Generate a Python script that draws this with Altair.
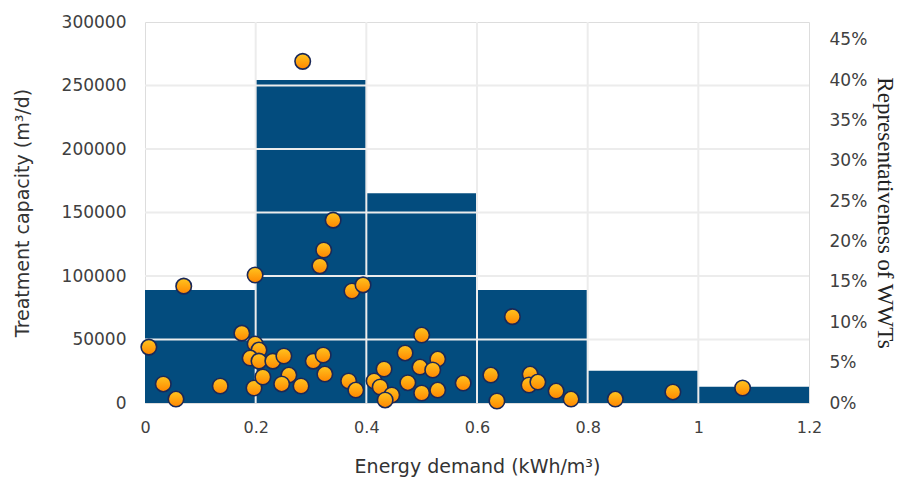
import altair as alt
import pandas as pd

# Histogram of representativeness (right axis)
bin_start = [0.0, 0.2, 0.4, 0.6, 0.8, 1.0]
bin_end = [0.2, 0.4, 0.6, 0.8, 1.0, 1.2]
share = [0.14, 0.40, 0.26, 0.14, 0.04, 0.02]

# Scatter: energy demand vs treatment capacity (left axis)
energy = [0.007, 0.07, 0.033, 0.056, 0.136, 0.175, 0.197, 0.213, 0.199, 0.206,
          0.19, 0.206, 0.231, 0.199, 0.251, 0.26, 0.247, 0.282, 0.304, 0.322,
          0.325, 0.368, 0.381, 0.414, 0.432, 0.425, 0.446, 0.434, 0.47, 0.475,
          0.5, 0.529, 0.497, 0.52, 0.5, 0.529, 0.575, 0.625, 0.636, 0.664,
          0.696, 0.694, 0.71, 0.743, 0.77, 0.85, 0.954, 1.08, 0.285, 0.34,
          0.323, 0.316, 0.374, 0.394]
capacity = [44000, 92000, 15000, 3100, 13400, 55000, 11800, 20500, 46500, 41700,
            35400, 33000, 33000, 100800, 37000, 22000, 15000, 13400, 33000, 37800,
            22800, 17300, 10200, 17300, 26800, 12600, 6300, 2400, 39400, 16000,
            53500, 34600, 28300, 26000, 7900, 10200, 15700, 22000, 1600, 68000,
            22800, 14200, 16500, 9400, 3100, 3100, 8700, 11800, 269000, 144000,
            120500, 108000, 88200, 93000]

x_ticks = [0, 0.2, 0.4, 0.6, 0.8, 1.0, 1.2]
grid_x = [0.2, 0.4, 0.6, 0.8, 1.0]
grid_y = [50000, 100000, 150000, 200000, 250000]
left_ticks = [0, 50000, 100000, 150000, 200000, 250000, 300000]
right_ticks = [0, 0.05, 0.10, 0.15, 0.20, 0.25, 0.30, 0.35, 0.40, 0.45]

bars_df = pd.DataFrame({"start": bin_start, "end": bin_end, "share": share})
pts_df = pd.DataFrame({"energy": energy, "capacity": capacity})
gx_df = pd.DataFrame({"gx": grid_x})
gy_df = pd.DataFrame({"gy": grid_y})

xscale = alt.Scale(domain=[0, 1.2], nice=False, zero=False)
left_scale = alt.Scale(domain=[0, 300000], nice=False)
right_scale = alt.Scale(domain=[0, 0.472], nice=False)

label_color = "#404040"

x_axis = alt.Axis(values=x_ticks, format="~g", title="Energy demand (kWh/m³)",
                  grid=False, ticks=False, domain=False, labelPadding=16,
                  labelFlush=False, titlePadding=22, labelFontSize=16,
                  titleFontSize=19, labelColor=label_color,
                  titleColor="#333333", labelFont="DejaVu Sans",
                  titleFont="DejaVu Sans", titleFontWeight="normal")

bars = alt.Chart(bars_df).mark_bar(color="#034c7e").encode(
    x=alt.X("start:Q", scale=xscale, axis=x_axis),
    x2="end:Q",
    y=alt.Y("share:Q", scale=right_scale,
            axis=alt.Axis(orient="right", values=right_ticks, format=".0%",
                          title="Representativeness of WWTs", grid=False,
                          ticks=False, domain=False, labelPadding=20,
                          titlePadding=6, labelFontSize=17, titleFontSize=23,
                          labelColor=label_color, titleColor="#222222",
                          labelFont="DejaVu Sans", titleFont="Liberation Serif",
                          titleFontWeight="normal")),
    y2=alt.datum(0),
)

vgrid = alt.Chart(gx_df).mark_rule(color="#ececec", strokeWidth=2).encode(
    x=alt.X("gx:Q", scale=xscale, axis=x_axis)
)

hgrid = alt.Chart(gy_df).mark_rule(color="#ececec", strokeWidth=2).encode(
    y=alt.Y("gy:Q", scale=left_scale, axis=None)
)

grad = alt.Gradient(
    gradient="linear",
    stops=[alt.GradientStop(color="#ffc51f", offset=0),
           alt.GradientStop(color="#ff8600", offset=1)],
    x1=0, x2=0, y1=0, y2=1,
)

points = alt.Chart(pts_df).mark_circle(
    fill=grad, stroke="#1a2858", strokeWidth=1.6, size=240, opacity=1
).encode(
    x=alt.X("energy:Q", scale=xscale, axis=x_axis),
    y=alt.Y("capacity:Q", scale=left_scale,
            axis=alt.Axis(orient="left", values=left_ticks, format="d",
                          title="Treatment capacity (m³/d)", grid=False,
                          ticks=False, domain=False, labelPadding=19,
                          titlePadding=29, labelFontSize=17, titleFontSize=19,
                          labelColor=label_color, titleColor="#333333",
                          labelFont="DejaVu Sans", titleFont="DejaVu Sans",
                          titleFontWeight="normal")),
)

chart = alt.layer(bars, vgrid, hgrid, points).resolve_scale(
    y="independent"
).properties(
    width=664, height=381
).configure_view(
    stroke="#8c8c8c", strokeWidth=1.5
).configure(background="white")

chart.save("out.html", embed_options={"renderer": "svg", "actions": False})
